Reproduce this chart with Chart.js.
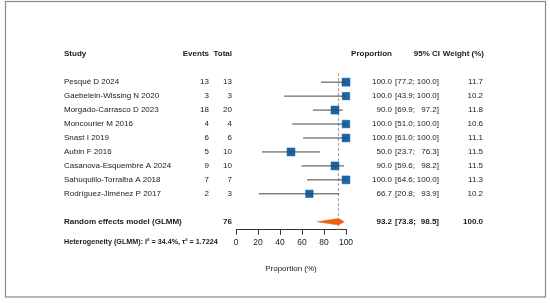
<!DOCTYPE html>
<html>
<head>
<meta charset="utf-8">
<script src="https://cdn.jsdelivr.net/npm/chart.js"></script>
<style>
  html, body { margin: 0; padding: 0; background: #fff; }
  #chart { display: block; }
</style>
</head>
<body>
<canvas id="chart" width="550" height="303"></canvas>
<script>
// study data
const studies = [
  'Pesqué D 2024', 'Gaebelein-Wissing N 2020', 'Morgado-Carrasco D 2023',
  'Moncourier M 2016', 'Snast I 2019', 'Aubin F 2016',
  'Casanova-Esquembre A 2024', 'Sahuquillo-Torralba A 2018', 'Rodríguez-Jiménez P 2017'
];
const events = [13, 3, 18, 4, 6, 5, 9, 7, 2];
const totals = [13, 3, 20, 4, 6, 10, 10, 7, 3];
const proportions = [100.0, 100.0, 90.0, 100.0, 100.0, 50.0, 90.0, 100.0, 66.7];
const ciLow = [77.2, 43.9, 69.9, 51.0, 61.0, 23.7, 59.6, 64.6, 20.8];
const ciHigh = [100.0, 100.0, 97.2, 100.0, 100.0, 76.3, 98.2, 100.0, 93.9];
const weights = [11.7, 10.2, 11.8, 10.6, 11.1, 11.5, 11.5, 11.3, 10.2];

const pooledLabel = 'Random effects model (GLMM)';
const pooledTotal = 76;
const pooledEst = 93.2;
const pooledLow = 73.8;
const pooledHigh = 98.5;
const pooledWeight = 100.0;
const heterogeneity = 'Heterogeneity (GLMM): I² = 34.4%, τ² = 1.7224';

const xTicks = [0, 20, 40, 60, 80, 100];

const FONT = '"Liberation Sans", Arial, Helvetica, sans-serif';
const TEXT = '#1a1a1a';
const POOLED_ROW = 10;

// CI lines, one dataset per study
const ciSets = studies.map((s, i) => ({
  type: 'scatter',
  showLine: true,
  data: [{ x: ciLow[i], y: i }, { x: ciHigh[i], y: i }],
  borderColor: '#444',
  borderWidth: 1,
  pointRadius: 0,
  clip: false,
  order: 0
}));

const squares = {
  type: 'scatter',
  data: proportions.map((p, i) => ({ x: p, y: i })),
  pointStyle: 'rect',
  pointRadius: weights.map(w => 2.34 * Math.sqrt(w) / Math.SQRT2),
  backgroundColor: '#1866aa',
  borderColor: '#125a99',
  borderWidth: 0.5,
  clip: false,
  order: 1
};

const diamondH = 0.24;
const diamond = {
  type: 'scatter',
  showLine: true,
  data: [
    { x: pooledLow, y: POOLED_ROW },
    { x: pooledEst, y: POOLED_ROW - diamondH },
    { x: pooledHigh, y: POOLED_ROW },
    { x: pooledEst, y: POOLED_ROW + diamondH },
    { x: pooledLow, y: POOLED_ROW }
  ],
  borderColor: '#e8620f',
  backgroundColor: '#e8620f',
  borderWidth: 0.5,
  fill: 'shape',
  pointRadius: 0,
  clip: false,
  order: 1
};

const refLine = {
  type: 'scatter',
  showLine: true,
  data: [{ x: pooledEst, y: -0.65 }, { x: pooledEst, y: 10.6 }],
  borderColor: '#a0a0a0',
  borderWidth: 1,
  borderDash: [3, 2],
  pointRadius: 0,
  clip: false,
  order: 2
};

// text columns of the forest plot
const textPlugin = {
  id: 'forestText',
  afterDraw(chart) {
    const ctx = chart.ctx;
    const y = chart.scales.y;
    ctx.save();
    ctx.fillStyle = TEXT;
    ctx.textBaseline = 'middle';

    const put = (txt, x, row, align, bold, size) => {
      ctx.font = (bold ? 'bold ' : '') + (size || 8) + 'px ' + FONT;
      ctx.textAlign = align;
      ctx.fillText(txt, x, y.getPixelForValue(row));
    };

    // header
    put('Study', 64, -2, 'left', true);
    put('Events', 209, -2, 'right', true);
    put('Total', 232, -2, 'right', true);
    put('Proportion', 392, -2, 'right', true);
    put('95% CI', 440, -2, 'right', true);
    put('Weight (%)', 484, -2, 'right', true);

    studies.forEach((s, i) => {
      put(s, 64, i, 'left');
      put(String(events[i]), 209, i, 'right');
      put(String(totals[i]), 232, i, 'right');
      put(proportions[i].toFixed(1), 392, i, 'right');
      put('[' + ciLow[i].toFixed(1) + ';', 395, i, 'left');
      put(ciHigh[i].toFixed(1) + ']', 439, i, 'right');
      put(weights[i].toFixed(1), 483, i, 'right');
    });

    put(pooledLabel, 64, POOLED_ROW, 'left', true);
    put(String(pooledTotal), 232, POOLED_ROW, 'right', true);
    put(pooledEst.toFixed(1), 392, POOLED_ROW, 'right', true);
    put('[' + pooledLow.toFixed(1) + ';', 395, POOLED_ROW, 'left', true);
    put(pooledHigh.toFixed(1) + ']', 439, POOLED_ROW, 'right', true);
    put(pooledWeight.toFixed(1), 483, POOLED_ROW, 'right', true);

    put(heterogeneity, 64, 11.42, 'left', true, 7.2);

    // outer frame
    ctx.strokeStyle = '#8a8a8a';
    ctx.lineWidth = 1.2;
    ctx.strokeRect(5.5, 1.5, 540, 295.5);
    ctx.restore();
  }
};

new Chart(document.getElementById('chart'), {
  type: 'scatter',
  data: { datasets: [...ciSets, squares, diamond, refLine] },
  options: {
    responsive: false,
    devicePixelRatio: 1,
    animation: false,
    layout: { padding: { left: 236, right: 204, top: 68.2, bottom: 25.5 } },
    plugins: { legend: { display: false }, tooltip: { enabled: false } },
    scales: {
      x: {
        type: 'linear',
        min: 0,
        max: 100,
        afterBuildTicks(scale) { scale.ticks = xTicks.map(v => ({ value: v })); },
        grid: { drawOnChartArea: false, drawTicks: true, tickLength: 5, color: '#333' },
        border: { display: true, color: '#333', width: 1 },
        ticks: { color: TEXT, font: { family: FONT, size: 8.5 }, padding: 3, maxRotation: 0 },
        title: {
          display: true,
          text: 'Proportion (%)',
          color: TEXT,
          font: { family: FONT, size: 8 },
          padding: { top: 13, bottom: 4 }
        }
      },
      y: {
        type: 'linear',
        display: false,
        reverse: true,
        min: -1,
        max: 10.57
      }
    }
  },
  plugins: [textPlugin]
});
</script>
</body>
</html>
